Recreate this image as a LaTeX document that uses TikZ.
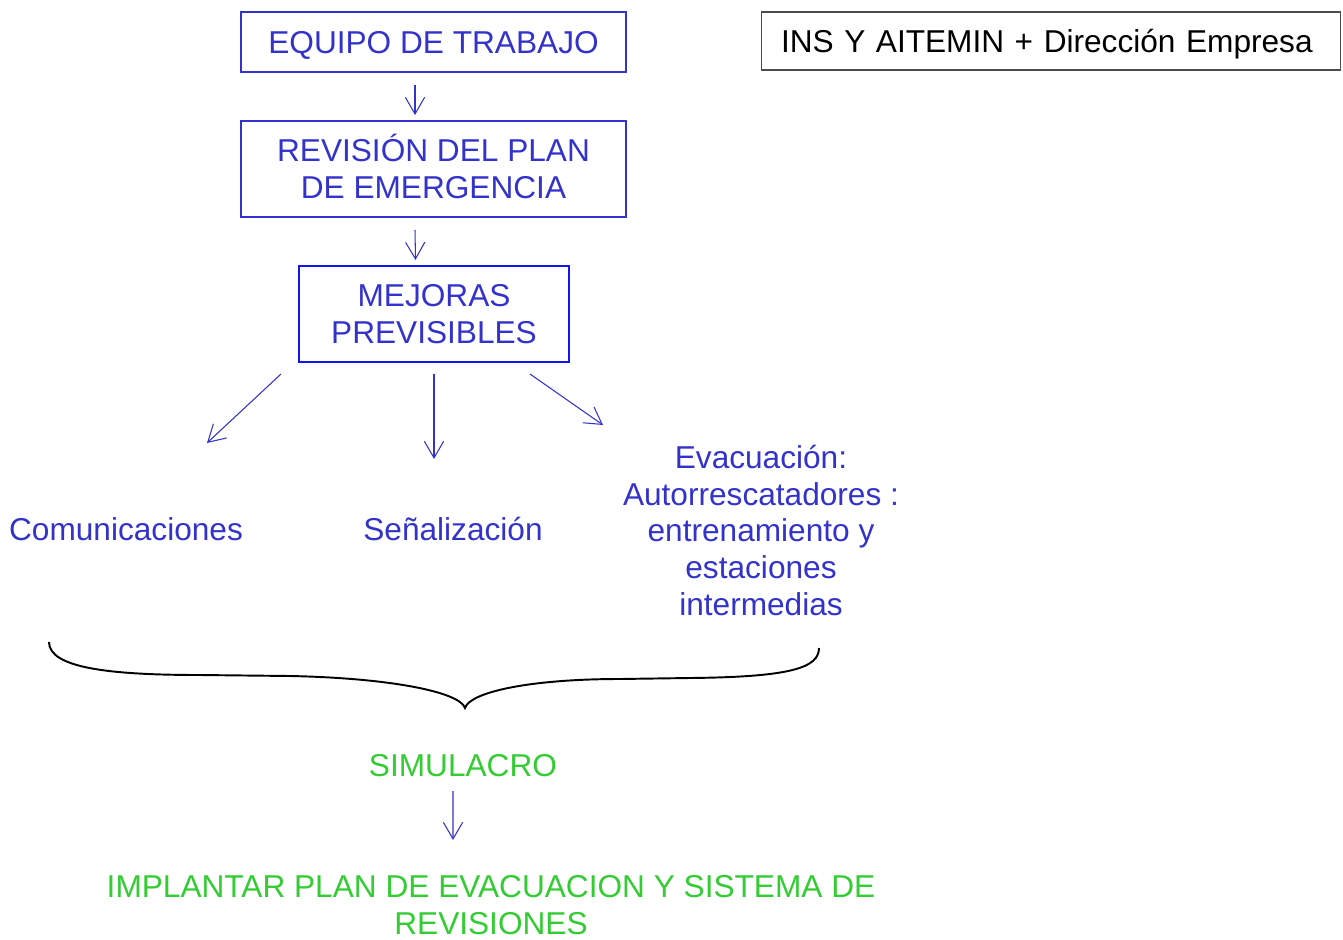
\documentclass[tikz,border=0pt]{standalone}
\usepackage{fontspec}
\setmainfont{Liberation Sans}
\usetikzlibrary{arrows.meta}
\definecolor{tblue}{RGB}{51,51,204}
\definecolor{bblue}{RGB}{20,20,240}
\definecolor{tgreen}{RGB}{51,204,51}
\tikzset{
  txt/.style={font=\fontsize{18}{21}\selectfont, inner sep=0pt, align=center},
  bluetxt/.style={txt, text=tblue},
  greentxt/.style={txt, text=tgreen},
  bluebox/.style={bluetxt, draw=tblue, line width=1.1pt},
  brightbox/.style={bluetxt, draw=bblue, line width=1.2pt},
  blackbox/.style={txt, draw=black!70, line width=0.6pt, align=left},
  arr/.style={draw=tblue, line width=0.6pt, -{Straight Barb[length=9.5pt,width=11pt,line width=0.6pt]}},
  brace/.style={draw=black, line width=1.1pt}
}
\begin{document}
\begin{tikzpicture}[x=0.02cm,y=-0.02cm]
\useasboundingbox (0,0) rectangle (1343,940);
% boxes
\node[bluebox, minimum width=7.7cm, minimum height=1.2cm, text height=13pt, text depth=0pt] (b1) at (433.5,42) {EQUIPO DE TRABAJO};
\node[bluebox, minimum width=7.7cm, minimum height=1.92cm] (b2) at (433.5,169) {REVISI\smash{Ó}N DEL PLAN\\DE EMERGENCIA};
\node[brightbox, minimum width=5.4cm, minimum height=1.92cm] (b3) at (434,314) {MEJORAS\\PREVISIBLES};
\node[blackbox, text width=10.8cm, inner xsep=0.4cm, minimum height=1.16cm, text height=13pt, text depth=0pt] (ins) at (1051,41) {INS Y AITEMIN + Dirección Empresa};
% items
\node[bluetxt] (com) at (126,529) {Comunicaciones};
\node[bluetxt] (sen) at (453,529) {Señalización};
\node[bluetxt] (eva) at (761,530.5) {Evacuación:\\Autorrescatadores :\\entrenamiento y\\estaciones\\intermedias};
\node[greentxt] (sim) at (463,766) {SIMULACRO};
\node[greentxt] (imp) at (491,905) {IMPLANTAR PLAN DE EVACUACION Y SISTEMA DE\\REVISIONES};
% arrows between boxes
\draw[arr] ([xshift=-0.37cm,yshift=-0.24cm]b1.south) -- ([xshift=-0.37cm,yshift=0.1cm]b2.north);
\draw[arr] ([xshift=-0.37cm,yshift=-0.24cm]b2.south) -- ([xshift=-0.37cm,yshift=0.1cm]b3.north);
% fan arrows
\coordinate (ls) at (281,374); \coordinate (le) at (207,443);
\coordinate (ms) at (434,374); \coordinate (me) at (434,459);
\coordinate (rs) at (530,374); \coordinate (re) at (603,425);
\draw[arr] (ls) -- (le);
\draw[arr] (ms) -- (me);
\draw[arr] (rs) -- (re);
% brace
\coordinate (bl) at (49,642);
\coordinate (bt) at (465,708);
\coordinate (br) at (819,648);
\draw[brace] (bl) .. controls (49,668) and (110,675) .. (200,675)
  -- (290,676) .. controls (390,678) and (460,692) .. (bt)
  .. controls (470,692) and (530,679) .. (620,679)
  -- (690,678) .. controls (790,677) and (819,668) .. (br);
% simulacro arrow
\draw[arr] ([xshift=-0.2cm,yshift=-0.27cm]sim.south) -- ([xshift=-0.76cm,yshift=0.7cm]imp.north);
\end{tikzpicture}
\end{document}
